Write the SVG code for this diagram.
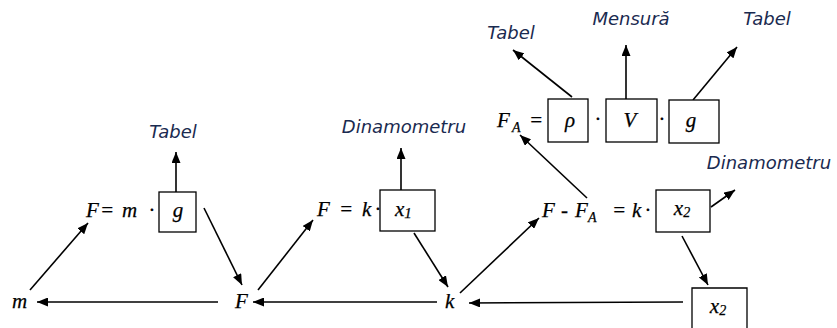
<svg xmlns="http://www.w3.org/2000/svg" width="837" height="328" viewBox="0 0 837 328">
<defs>
<marker id="ah" markerUnits="userSpaceOnUse" markerWidth="11" markerHeight="9" refX="11" refY="4.5" orient="auto">
<path d="M0,0 L11,4.5 L0,9 z" fill="#000"/>
</marker>
</defs>
<style>
.lb{font-family:'DejaVu Sans',Verdana,sans-serif;font-style:oblique;font-size:18px;fill:#1a2a50;text-anchor:middle}
.bx{fill:#fff;stroke:#000;stroke-width:1.3}
.c{stroke:#000;stroke-width:1.6;fill:none;marker-end:url(#ah)}
.ctr{text-anchor:middle}
</style>
<rect width="837" height="328" fill="#fff"/>
<g id="connectors">
<line class="c" x1="30" y1="290" x2="88" y2="223"/>
<line class="c" x1="176" y1="192" x2="176" y2="152"/>
<line class="c" x1="204" y1="208" x2="242" y2="285"/>
<line class="c" x1="218" y1="302" x2="37" y2="302"/>
<line class="c" x1="258" y1="290" x2="313" y2="220"/>
<line class="c" x1="401" y1="190" x2="401" y2="148"/>
<line class="c" x1="414" y1="233" x2="448" y2="287"/>
<line class="c" x1="437" y1="302" x2="253" y2="302"/>
<line class="c" x1="460" y1="293" x2="539" y2="218"/>
<line class="c" x1="683" y1="302" x2="469" y2="303"/>
<line class="c" x1="587" y1="198" x2="520" y2="135"/>
<line class="c" x1="572" y1="97" x2="513" y2="50"/>
<line class="c" x1="626" y1="99" x2="626" y2="45"/>
<line class="c" x1="693" y1="100" x2="737" y2="47"/>
<line class="c" x1="711" y1="207" x2="735" y2="190"/>
<line class="c" x1="682" y1="236" x2="708" y2="285"/>
</g>
<g id="labels">
<text class="lb" x="173" y="138">Tabel</text>
<text class="lb" x="404" y="133">Dinamometru</text>
<text class="lb" x="511" y="39">Tabel</text>
<text class="lb" x="631" y="25">Mensură</text>
<text class="lb" x="767" y="25">Tabel</text>
<text class="lb" x="769" y="169">Dinamometru</text>
</g>
<g font-family="Liberation Serif, serif" font-style="italic" font-size="21" fill="#000" stroke="#000" stroke-width="0.25">
<g id="node-m"><text x="12" y="308">m</text></g>
<g id="node-F"><text x="235" y="308">F</text></g>
<g id="node-k"><text x="445" y="308">k</text></g>
<g id="node-Fmg">
<text x="86" y="217">F<tspan x="100">=</tspan><tspan x="122">m</tspan><tspan x="149">·</tspan></text>
<rect class="bx" x="159" y="192" width="37" height="40"/>
<text class="ctr" x="178" y="217">g</text>
</g>
<g id="node-Fkx1">
<text x="317" y="216">F<tspan x="339">=</tspan><tspan x="362">k</tspan><tspan x="375">·</tspan></text>
<rect class="bx" x="380" y="190" width="55" height="41"/>
<text x="395" y="216">x<tspan font-size="15" dy="2">1</tspan></text>
</g>
<g id="node-FA">
<text x="497" y="127">F<tspan font-size="14" dy="5" x="512">A</tspan><tspan dy="-5" x="529">=</tspan></text>
<rect class="bx" x="548" y="99" width="40" height="43"/>
<text class="ctr" x="570" y="127">ρ</text>
<text x="595" y="126">·</text>
<rect class="bx" x="606" y="99" width="51" height="43"/>
<text class="ctr" x="630" y="127">V</text>
<text x="659" y="126">·</text>
<rect class="bx" x="669" y="100" width="50" height="43"/>
<text class="ctr" x="691" y="127">g</text>
</g>
<g id="node-FFA">
<text x="542" y="217">F<tspan x="561">-</tspan><tspan x="575">F</tspan><tspan font-size="14" dy="5" x="588">A</tspan><tspan dy="-5" x="612">=</tspan><tspan x="632">k</tspan><tspan x="645">·</tspan></text>
<rect class="bx" x="656" y="190" width="54" height="42"/>
<text class="ctr" x="682" y="215">x<tspan font-size="14" dy="2">2</tspan></text>
</g>
<g id="node-x2">
<path class="bx" d="M692,332 V288 H747 V332"/>
<text class="ctr" x="718" y="313">x<tspan font-size="14" dy="2">2</tspan></text>
</g>
</g>
</svg>
